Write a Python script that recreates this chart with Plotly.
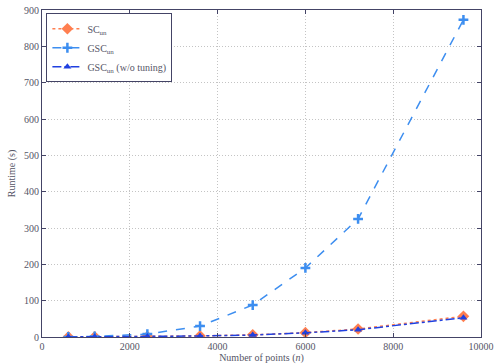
import plotly.graph_objects as go

n_points = [600, 1200, 2400, 3600, 4800, 6000, 7200, 9600]
sc_un = [0.1, 0.4, 1.2, 3.0, 6.0, 12.0, 22.0, 57.0]
gsc_un = [0.3, 1.5, 8.0, 30.0, 88.0, 190.0, 325.0, 873.0]
gsc_un_notune = [0.1, 0.4, 1.1, 2.8, 5.5, 11.5, 20.0, 53.0]
x_ticks = [0, 2000, 4000, 6000, 8000, 10000]
x_tick_labels = ["0", "2000", "4000", "6000", "8000", "10000"]
y_ticks = [0, 100, 200, 300, 400, 500, 600, 700, 800, 900]
y_tick_labels = ["0", "100", "200", "300", "400", "500", "600", "700", "800", "900"]

font_family = "Liberation Serif, DejaVu Serif, serif"
text_color = "#555566"
frame_color = "#444466"

fig = go.Figure()
fig.add_trace(go.Scatter(
    x=n_points, y=sc_un, name="SC<sub>un</sub>", mode="lines+markers",
    line=dict(color="#FF7F50", dash="dot", width=1.5),
    marker=dict(symbol="diamond", size=9, color="#FF7F50")))
fig.add_trace(go.Scatter(
    x=n_points, y=gsc_un, name="GSC<sub>un</sub>", mode="lines+markers",
    line=dict(color="#3D8EF0", dash="dash", width=1.5),
    marker=dict(symbol="cross-thin", size=7, color="#3D8EF0",
                line=dict(width=2.5, color="#3D8EF0"))))
fig.add_trace(go.Scatter(
    x=n_points, y=gsc_un_notune, name="GSC<sub>un</sub> (w/o tuning)", mode="lines+markers",
    line=dict(color="#2040E0", dash="dashdot", width=1.5),
    marker=dict(symbol="triangle-up", size=7, color="#2040E0")))

axis_common = dict(
    showgrid=True, gridcolor="#C4C4C4", griddash="1px,2px", gridwidth=1,
    showline=True, linecolor=frame_color, linewidth=1, mirror="ticks",
    ticks="inside", ticklen=4, tickcolor=frame_color, zeroline=False,
    automargin=False, ticklabeloverflow="allow",
    tickfont=dict(family=font_family, size=10, color=text_color),
)

fig.update_layout(
    width=494, height=364,
    margin=dict(l=42, r=13, t=10, b=27, autoexpand=False),
    paper_bgcolor="white", plot_bgcolor="white",
    font=dict(family=font_family, size=10, color=text_color),
    xaxis=dict(range=[0, 10000], tickvals=x_ticks, ticktext=x_tick_labels, **axis_common,
               title=dict(text="Number of points (<i>n</i>)", standoff=0,
                          font=dict(family=font_family, size=10, color=text_color))),
    yaxis=dict(range=[0, 900], tickvals=y_ticks, ticktext=y_tick_labels, **axis_common,
               title=dict(text="Runtime (s)", standoff=6,
                          font=dict(family=font_family, size=10, color=text_color))),
    legend=dict(x=0.01, y=0.99, xanchor="left", yanchor="top",
                bgcolor="white", bordercolor=frame_color, borderwidth=1,
                font=dict(family=font_family, size=10, color=text_color),
                itemwidth=30, tracegroupgap=0),
    showlegend=True,
)

fig.write_html("out.html", config={"displayModeBar": False},
               post_script="document.body.style.margin='0px';document.body.style.padding='0px';")
